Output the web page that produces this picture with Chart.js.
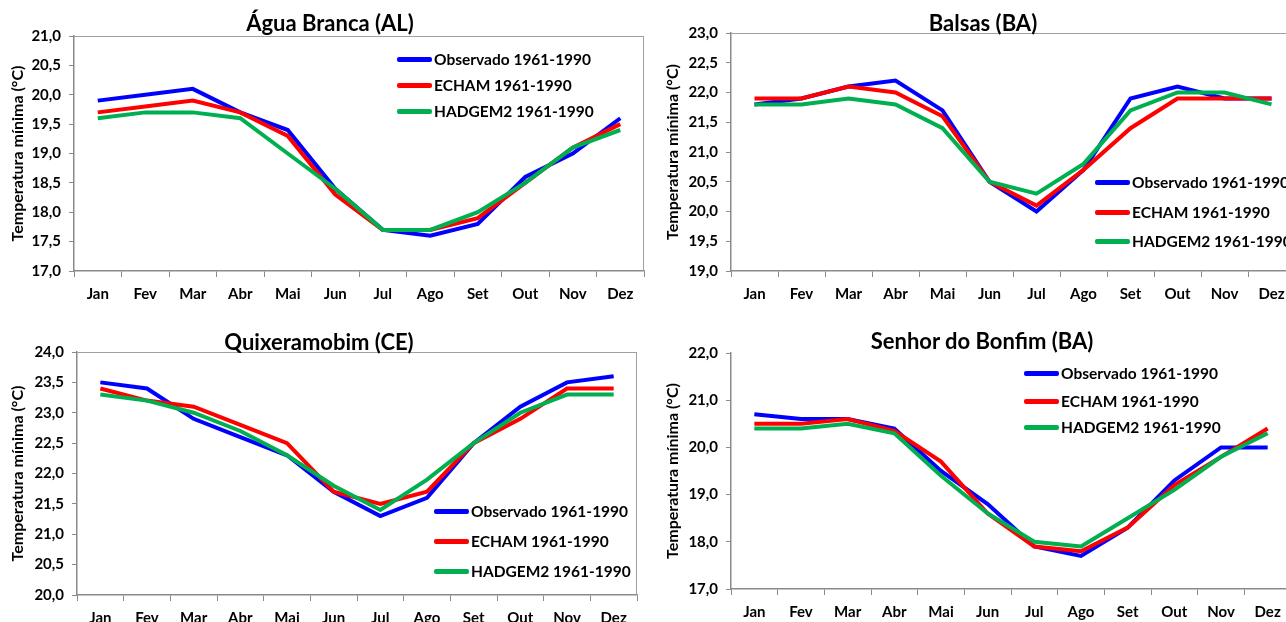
<!DOCTYPE html>
<html>
<head>
<meta charset="utf-8">
<script src="https://cdn.jsdelivr.net/npm/chart.js@4.4.1/dist/chart.umd.min.js"></script>
<style>
  body { margin: 0; width: 1286px; height: 622px; overflow: hidden; background: #fff; position: relative; font-family: Lato, "Open Sans", sans-serif; }
  canvas { position: absolute; }
  .title { position: absolute; transform: translate(-50%, -50%); font-weight: bold; font-size: 22px; color: #000; white-space: nowrap; }
  .leg { position: absolute; font-weight: bold; font-size: 15.5px; color: #000; white-space: nowrap; }
  .leg div { position: absolute; transform: translateY(-50%); display: flex; align-items: center; }
  .leg span { display: inline-block; width: 35px; height: 5px; border-radius: 2px; margin-right: 2px; }
</style>
</head>
<body>
<canvas id="c1" width="660" height="311" style="left:0;top:0"></canvas>
<canvas id="c2" width="660" height="311" style="left:643px;top:0"></canvas>
<canvas id="c3" width="660" height="311" style="left:0;top:311px"></canvas>
<canvas id="c4" width="660" height="311" style="left:643px;top:311px"></canvas>

<script>
// meses
const months = ["Jan", "Fev", "Mar", "Abr", "Mai", "Jun", "Jul", "Ago", "Set", "Out", "Nov", "Dez"];
const seriesNames = ["Observado 1961-1990", "ECHAM 1961-1990", "HADGEM2 1961-1990"];
const seriesColors = ["#0000ff", "#ff0000", "#00b050"];

// Água Branca (AL)
const aguaObs    = [19.9, 20.0, 20.1, 19.7, 19.4, 18.4, 17.7, 17.6, 17.8, 18.6, 19.0, 19.6];
const aguaEcham  = [19.7, 19.8, 19.9, 19.7, 19.3, 18.3, 17.7, 17.7, 17.9, 18.5, 19.1, 19.5];
const aguaHadgem = [19.6, 19.7, 19.7, 19.6, 19.0, 18.4, 17.7, 17.7, 18.0, 18.5, 19.1, 19.4];

// Balsas (BA)
const balsasObs    = [21.8, 21.9, 22.1, 22.2, 21.7, 20.5, 20.0, 20.7, 21.9, 22.1, 21.9, 21.9];
const balsasEcham  = [21.9, 21.9, 22.1, 22.0, 21.6, 20.5, 20.1, 20.7, 21.4, 21.9, 21.9, 21.9];
const balsasHadgem = [21.8, 21.8, 21.9, 21.8, 21.4, 20.5, 20.3, 20.8, 21.7, 22.0, 22.0, 21.8];

// Quixeramobim (CE)
const quixObs    = [23.5, 23.4, 22.9, 22.6, 22.3, 21.7, 21.3, 21.6, 22.5, 23.1, 23.5, 23.6];
const quixEcham  = [23.4, 23.2, 23.1, 22.8, 22.5, 21.7, 21.5, 21.7, 22.5, 22.9, 23.4, 23.4];
const quixHadgem = [23.3, 23.2, 23.0, 22.7, 22.3, 21.8, 21.4, 21.9, 22.5, 23.0, 23.3, 23.3];

// Senhor do Bonfim (BA)
const bonfimObs    = [20.7, 20.6, 20.6, 20.4, 19.5, 18.8, 17.9, 17.7, 18.3, 19.3, 20.0, 20.0];
const bonfimEcham  = [20.5, 20.5, 20.6, 20.35, 19.7, 18.6, 17.9, 17.8, 18.3, 19.2, 19.8, 20.4];
const bonfimHadgem = [20.4, 20.4, 20.5, 20.3, 19.4, 18.6, 18.0, 17.9, 18.5, 19.1, 19.8, 20.3];

const yTitle = "Temperatura mínima (°C)";
const font = "Lato, 'Open Sans', sans-serif";

// borda cinza em cima / à direita da área do gráfico
const frame = {
  id: "frame",
  afterDraw(chart, args, opts) {
    const a = chart.chartArea, ctx = chart.ctx;
    ctx.save();
    ctx.strokeStyle = "#a0a0a0";
    ctx.lineWidth = 1;
    ctx.beginPath();
    if (opts.top) { ctx.moveTo(a.left, a.top + 0.5); ctx.lineTo(a.right, a.top + 0.5); }
    if (opts.right) { ctx.moveTo(a.right - 0.5, a.top); ctx.lineTo(a.right - 0.5, a.bottom); }
    ctx.stroke();
    ctx.restore();
  }
};

function makePanel(id, cx, cy, box, series, yMin, yMax, yStep, p) {
  const canvas = document.getElementById(id);
  const W = canvas.width, H = canvas.height;
  new Chart(canvas, {
    type: "line",
    data: {
      labels: months,
      datasets: series.map((s, i) => ({
        label: seriesNames[i],
        data: s,
        borderColor: seriesColors[i],
        backgroundColor: seriesColors[i],
        borderWidth: 4,
        pointRadius: 0,
        tension: 0
      })).reverse()
    },
    options: {
      responsive: false,
      animation: false,
      devicePixelRatio: 1,
      layout: { padding: { left: 0, top: box.t - cy, right: W - (box.r - cx), bottom: 0 } },
      plugins: {
        legend: { display: false },
        tooltip: { enabled: false },
        frame: { top: p.top, right: p.right }
      },
      scales: {
        x: {
          offset: true,
          grid: { drawOnChartArea: false, drawTicks: true, tickLength: 6, color: "#8a8a8a", offset: true },
          border: { color: "#8a8a8a", width: 1.5 },
          ticks: { color: "#000", font: { family: font, weight: "bold", size: 15 }, padding: 8, maxRotation: 0, autoSkip: false },
          afterFit(s) { s.height = H - (box.b - cy); }
        },
        y: {
          min: yMin, max: yMax,
          grid: { drawOnChartArea: false, drawTicks: true, tickLength: 5, color: "#8a8a8a" },
          border: { color: "#8a8a8a", width: 1.5 },
          ticks: {
            stepSize: yStep, padding: 8, color: "#000",
            font: { family: font, weight: "bold", size: 15 },
            callback: v => v.toFixed(1).replace(".", ",")
          },
          title: { display: true, text: yTitle, color: "#000", font: { family: font, weight: "bold", size: 16 }, padding: { top: p.tpad, bottom: 0 } },
          afterFit(s) { s.width = box.l - cx; }
        }
      }
    },
    plugins: [frame]
  });
}

function addTitle(text, x, y) {
  const d = document.createElement("div");
  d.className = "title";
  d.textContent = text;
  d.style.left = x + "px";
  d.style.top = y + "px";
  document.body.appendChild(d);
}

function addLegend(x, ys) {
  const box = document.createElement("div");
  box.className = "leg";
  box.style.left = x + "px";
  box.style.top = "0px";
  seriesNames.forEach((n, i) => {
    const row = document.createElement("div");
    row.style.top = ys[i] + "px";
    const sw = document.createElement("span");
    sw.style.background = seriesColors[i];
    row.appendChild(sw);
    row.appendChild(document.createTextNode(n));
    box.appendChild(row);
  });
  document.body.appendChild(box);
}

makePanel("c1", 0, 0, { l: 74, t: 36, r: 644, b: 271 }, [aguaObs, aguaEcham, aguaHadgem], 17, 21, 0.5, { top: true, right: true, tpad: 8 });
makePanel("c2", 643, 0, { l: 731, t: 33, r: 1295, b: 271 }, [balsasObs, balsasEcham, balsasHadgem], 19, 23, 0.5, { top: true, right: true, tpad: 20 });
makePanel("c3", 0, 311, { l: 77, t: 352, r: 637, b: 595 }, [quixObs, quixEcham, quixHadgem], 20, 24, 0.5, { top: true, right: true, tpad: 8 });
makePanel("c4", 643, 311, { l: 731, t: 353, r: 1291, b: 589 }, [bonfimObs, bonfimEcham, bonfimHadgem], 17, 22, 1, { top: false, right: true, tpad: 20 });

addTitle("Água Branca (AL)", 330, 22);
addTitle("Balsas (BA)", 983, 22);
addTitle("Quixeramobim (CE)", 319, 341);
addTitle("Senhor do Bonfim (BA)", 982, 340);

addLegend(397, [59, 85, 111]);
addLegend(1095, [182, 212, 241]);
addLegend(434, [511, 541, 571]);
addLegend(1024, [373, 401, 427]);
</script>
</body>
</html>
